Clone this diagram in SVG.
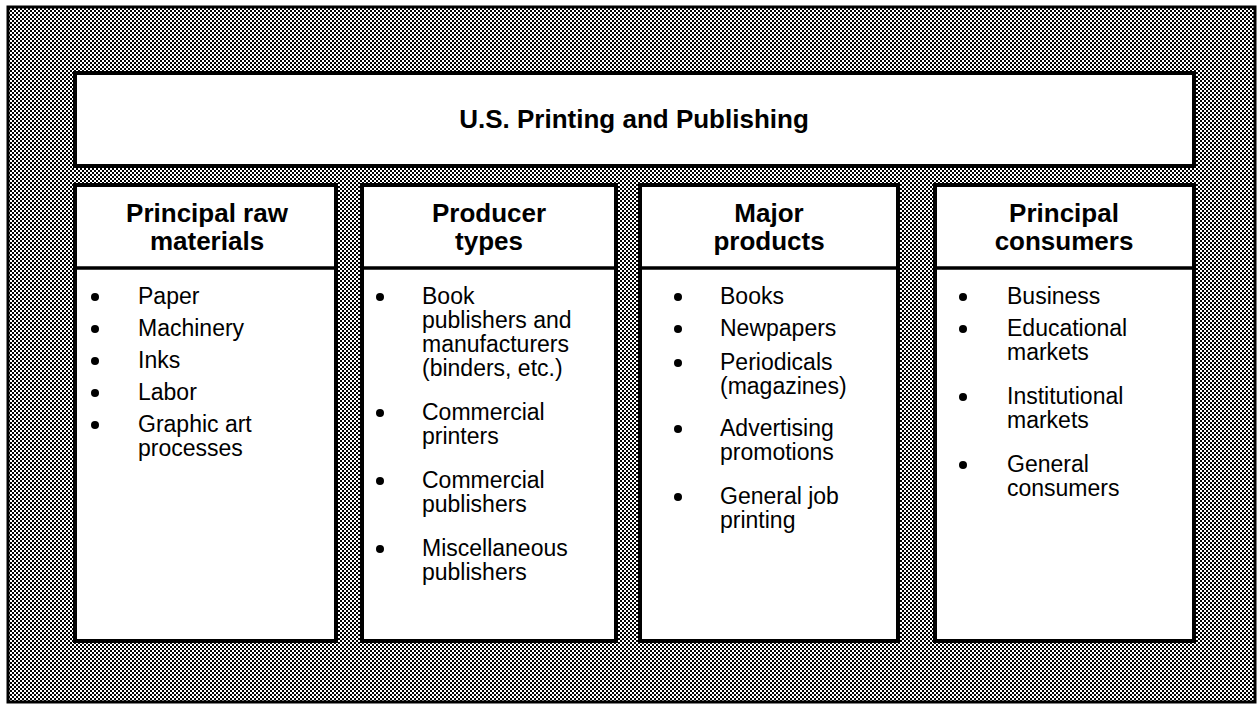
<svg xmlns="http://www.w3.org/2000/svg" width="1259" height="706" viewBox="0 0 1259 706">
  <defs>
    <!-- fine halftone checker used for the frame background -->
    <pattern id="dither" patternUnits="userSpaceOnUse" width="4" height="4">
      <rect width="4" height="4" fill="#fff"/>
      <rect x="0" y="0" width="2" height="2" fill="#000"/>
      <rect x="2" y="2" width="2" height="2" fill="#000"/>
    </pattern>
  </defs>
  <style>
    .box { fill: #fff; stroke: #000; stroke-width: 4; }
    .rule { stroke: #000; stroke-width: 3.5; }
    .title { font-family: "Liberation Sans", Arial, sans-serif; font-weight: bold; font-size: 26px; text-anchor: middle; fill: #000; }
    .head { font-family: "Liberation Sans", Arial, sans-serif; font-weight: bold; font-size: 26px; text-anchor: middle; fill: #000; }
    .item { font-family: "Liberation Sans", Arial, sans-serif; font-size: 23px; fill: #000; }
    .dot { fill: #000; }
  </style>

  <rect width="1259" height="706" fill="#fff"/>
  <!-- outer frame -->
  <rect x="8" y="7" width="1247" height="695" fill="url(#dither)" stroke="#000" stroke-width="3"/>

  <g id="title">
    <rect class="box" x="75" y="73" width="1119" height="93"/>
    <text class="title" x="634" y="128">U.S. Printing and Publishing</text>
  </g>

  <g id="raw-materials">
    <rect class="box" x="75" y="185" width="261" height="456"/>
    <line class="rule" x1="75" y1="268" x2="336" y2="268"/>
    <text class="head" x="207" y="222">Principal raw</text>
    <text class="head" x="207" y="250">materials</text>
    <g class="dot">
      <circle cx="95" cy="297" r="4"/>
      <circle cx="95" cy="329" r="4"/>
      <circle cx="95" cy="361" r="4"/>
      <circle cx="95" cy="393" r="4"/>
      <circle cx="95" cy="425" r="4"/>
    </g>
    <text class="item" x="138" y="304">Paper</text>
    <text class="item" x="138" y="336">Machinery</text>
    <text class="item" x="138" y="368">Inks</text>
    <text class="item" x="138" y="400">Labor</text>
    <text class="item" x="138" y="432">Graphic art</text>
    <text class="item" x="138" y="456">processes</text>
  </g>

  <g id="producer-types">
    <rect class="box" x="362" y="185" width="254" height="456"/>
    <line class="rule" x1="362" y1="268" x2="616" y2="268"/>
    <text class="head" x="489" y="222">Producer</text>
    <text class="head" x="489" y="250">types</text>
    <g class="dot">
      <circle cx="380" cy="297" r="4"/>
      <circle cx="380" cy="413" r="4"/>
      <circle cx="380" cy="481" r="4"/>
      <circle cx="380" cy="549" r="4"/>
    </g>
    <text class="item" x="422" y="304">Book</text>
    <text class="item" x="422" y="328">publishers and</text>
    <text class="item" x="422" y="352">manufacturers</text>
    <text class="item" x="422" y="376">(binders, etc.)</text>
    <text class="item" x="422" y="420">Commercial</text>
    <text class="item" x="422" y="444">printers</text>
    <text class="item" x="422" y="488">Commercial</text>
    <text class="item" x="422" y="512">publishers</text>
    <text class="item" x="422" y="556">Miscellaneous</text>
    <text class="item" x="422" y="580">publishers</text>
  </g>

  <g id="major-products">
    <rect class="box" x="640" y="185" width="258" height="456"/>
    <line class="rule" x1="640" y1="268" x2="898" y2="268"/>
    <text class="head" x="769" y="222">Major</text>
    <text class="head" x="769" y="250">products</text>
    <g class="dot">
      <circle cx="678" cy="297" r="4"/>
      <circle cx="678" cy="329" r="4"/>
      <circle cx="678" cy="363" r="4"/>
      <circle cx="678" cy="429" r="4"/>
      <circle cx="678" cy="497" r="4"/>
    </g>
    <text class="item" x="720" y="304">Books</text>
    <text class="item" x="720" y="336">Newpapers</text>
    <text class="item" x="720" y="370">Periodicals</text>
    <text class="item" x="720" y="394">(magazines)</text>
    <text class="item" x="720" y="436">Advertising</text>
    <text class="item" x="720" y="460">promotions</text>
    <text class="item" x="720" y="504">General job</text>
    <text class="item" x="720" y="528">printing</text>
  </g>

  <g id="consumers">
    <rect class="box" x="935" y="185" width="259" height="456"/>
    <line class="rule" x1="935" y1="268" x2="1194" y2="268"/>
    <text class="head" x="1064" y="222">Principal</text>
    <text class="head" x="1064" y="250">consumers</text>
    <g class="dot">
      <circle cx="963" cy="297" r="4"/>
      <circle cx="963" cy="329" r="4"/>
      <circle cx="963" cy="397" r="4"/>
      <circle cx="963" cy="465" r="4"/>
    </g>
    <text class="item" x="1007" y="304">Business</text>
    <text class="item" x="1007" y="336">Educational</text>
    <text class="item" x="1007" y="360">markets</text>
    <text class="item" x="1007" y="404">Institutional</text>
    <text class="item" x="1007" y="428">markets</text>
    <text class="item" x="1007" y="472">General</text>
    <text class="item" x="1007" y="496">consumers</text>
  </g>

  <!-- no connectors in this layout -->
  <g id="connectors"/>
</svg>
